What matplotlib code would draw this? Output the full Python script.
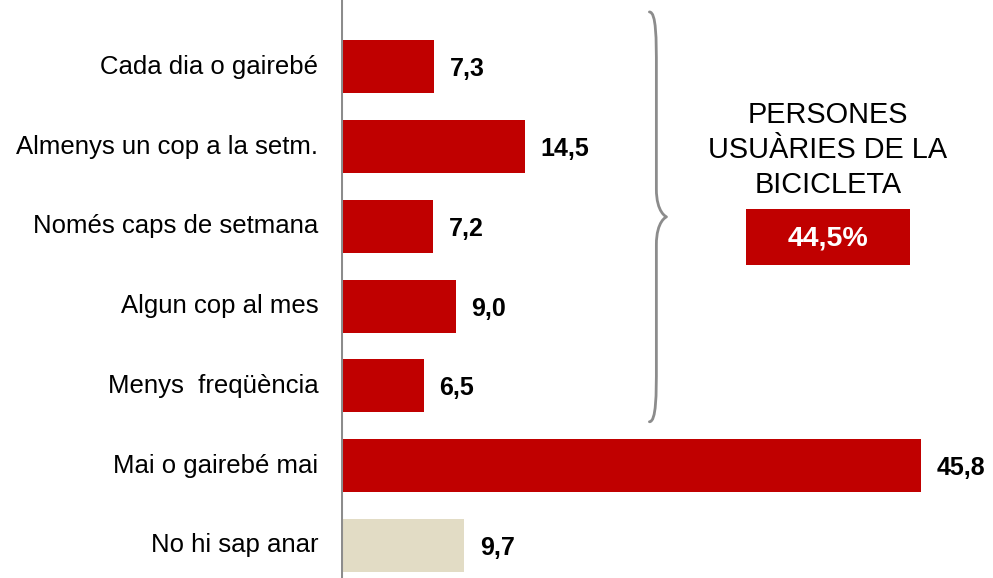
import matplotlib
matplotlib.use("Agg")
import matplotlib.pyplot as plt
from matplotlib.path import Path
from matplotlib.patches import PathPatch, Rectangle

plt.rcParams['font.family'] = ['Liberation Sans', 'DejaVu Sans']

categories = ["Cada dia o gairebé", "Almenys un cop a la setm.", "Només caps de setmana",
              "Algun cop al mes", "Menys  freqüència", "Mai o gairebé mai", "No hi sap anar"]
values = [7.3, 14.5, 7.2, 9.0, 6.5, 45.8, 9.7]
value_labels = ["7,3", "14,5", "7,2", "9,0", "6,5", "45,8", "9,7"]
bar_colors = ["#C00000"] * 6 + ["#E2DCC5"]
summary_title = "PERSONES\nUSUÀRIES DE LA\nBICICLETA"
summary_value = "44,5%"

W, H = 993, 578
fig = plt.figure(figsize=(W / 100, H / 100), dpi=100)
ax = fig.add_axes([341 / W, 0, (W - 341) / W, 1])
ax.set_xlim(0, (W - 341) / 12.64)
ax.set_ylim(6.41, -0.84)
ax.axis('off')

ypos = list(range(len(categories)))
ax.barh(ypos, values, height=0.665, color=bar_colors, left=0.06)
ax.axvline(0, color="#8C8C8C", lw=2.2)

for y, v, lab, cat in zip(ypos, values, value_labels, categories):
    ax.text(v + 1.3, y + 0.03, lab, ha='left', va='center', fontsize=18, fontweight='bold', color='black')
    ax.text(-1.8, y, cat, ha='right', va='center', fontsize=18.5, color='black')

# curly brace
xm, xt, xe = 24.95, 25.75, 24.4
y0, y1, ym = -0.69, 4.45, 1.88
c = 0.35
verts = [(xe, y0), (xm, y0), (xm, y0 + c), (xm, y0 + 2 * c),
         (xm, ym - c),
         (xm, ym - 0.05), (xt, ym), (xt, ym),
         (xt, ym), (xm, ym + 0.05), (xm, ym + c),
         (xm, y1 - 2 * c),
         (xm, y1 - c), (xm, y1), (xe, y1)]
codes = [Path.MOVETO, Path.CURVE4, Path.CURVE4, Path.CURVE4,
         Path.LINETO,
         Path.CURVE4, Path.CURVE4, Path.CURVE4,
         Path.CURVE4, Path.CURVE4, Path.CURVE4,
         Path.LINETO,
         Path.CURVE4, Path.CURVE4, Path.CURVE4]
ax.add_patch(PathPatch(Path(verts, codes), fill=False, edgecolor="#8C8C8C", lw=2.0,
                       capstyle='round', joinstyle='round'))

fig.text(828 / W, 1 - 150 / H, summary_title, ha='center', va='center', fontsize=20.8,
         linespacing=1.3, color='black')
fig.patches.append(Rectangle((746 / W, 1 - 265 / H), (910 - 746) / W, 56 / H,
                             transform=fig.transFigure, facecolor="#C00000", edgecolor='none'))
fig.text(828 / W, 1 - 238 / H, summary_value, ha='center', va='center', fontsize=20.5,
         fontweight='bold', color='white')

fig.savefig("out.png", dpi=100)
